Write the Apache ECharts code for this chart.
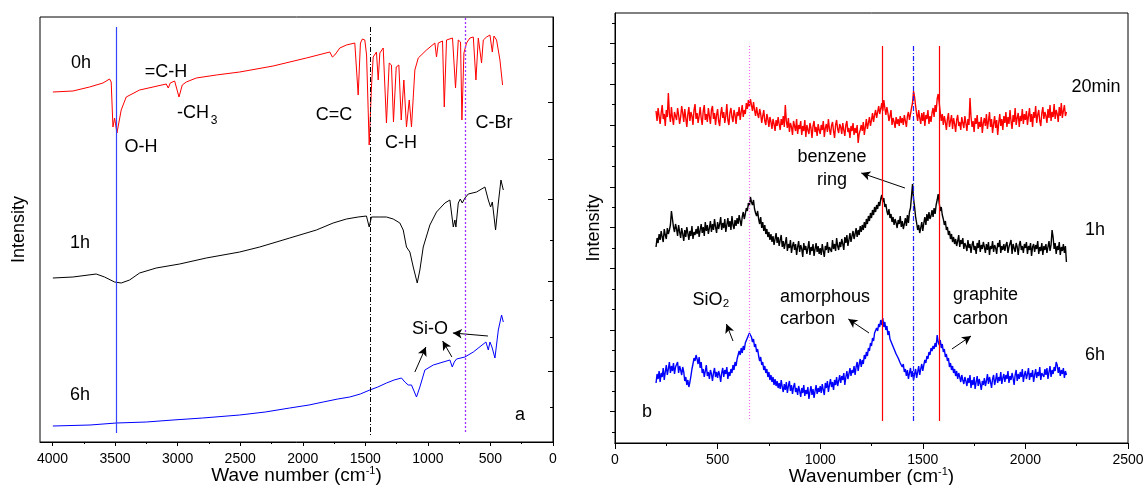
<!DOCTYPE html>
<html><head><meta charset="utf-8">
<script src="https://cdn.jsdelivr.net/npm/echarts@6/dist/echarts.min.js"></script>
<style>html,body{margin:0;padding:0;background:#fff}#c{width:1144px;height:485px}</style>
</head><body><div id="c"></div>
<script>
// ---------- Panel a: FTIR (wave number cm-1, intensity a.u.) ----------
const wave0h = [3997,3837,3704,3597,3544,3531,3517,3504,3485,3451,3411,3304,3197,3091,3075,3059,3024,3011,2989,2963,2931,2851,2691,2504,2237,1971,1784,1763,1744,1704,1651,1584,1571,1557,1539,1523,1504,1490,1469,1451,1437,1411,1397,1384,1357,1331,1309,1291,1275,1253,1232,1213,1192,1171,1149,1131,1104,1077,1011,944,931,917,883,869,851,803,779,757,739,728,712,691,664,637,616,597,571,557,531,504,485,472,451,424,403];
const int0h  = [350,351,355,359,363,360,315,324,309,332,345,352,355,358,354,359,361,362,345,357,360,364,367,370,376,384,390,385,387,394,397,399,400,347,399,403,402,387,297,355,385,390,362,389,394,319,379,377,320,375,377,322,362,315,342,315,372,384,392,399,385,399,401,335,402,404,354,402,400,322,389,399,404,405,362,404,379,402,405,407,390,406,402,382,357];
const wave1h = [3997,3837,3651,3640,3584,3504,3451,3384,3304,3171,2984,2771,2504,2344,2104,1891,1757,1651,1557,1491,1469,1451,1384,1331,1277,1224,1197,1171,1144,1117,1085,1064,1037,984,931,864,824,797,784,776,757,741,725,704,677,611,544,517,499,485,459,437,416,397];
const int1h  = [164,165,168,169,165,160,159,162,169,174,178,184,190,195,204,212,219,223,225,226,215,225,225,225,223,219,212,195,190,175,159,172,195,217,230,239,242,215,222,215,239,243,239,244,248,250,255,242,235,240,212,239,262,252];
const wave6h = [3997,3700,3490,3250,3037,2800,2504,2300,2104,1950,1837,1720,1624,1540,1464,1400,1331,1270,1211,1184,1157,1131,1091,1064,1024,957,824,805,789,771,704,637,536,517,504,488,464,437,411,397];
const int6h  = [16,17,19,20,22,24,27,30,34,37,40,43,45,48,52,55,59,62,64,60,57,57,45,55,72,77,82,75,80,83,85,90,100,92,100,95,84,112,127,120];
const ftirMajorTicks = [0,500,1000,1500,2000,2500,3000,3500,4000];
const ftirMinorTicks = [250,750,1250,1750,2250,2750,3250,3750];
const ftirYMajorTicks = [396,340,283,243,161,71];
const ftirYMinorTicks = [202,142,105,35];

// ---------- Panel b: Raman (wavenumber cm-1), sampled every 5 cm-1 from 200 to 2200 ----------
const ramanShift = Array.from({length: 401}, (_, i) => 200 + 5 * i);
const raman20min = [
332,322,335,327,319,330,338,324,329,317,333,326,350,329,321,336,325,318,331,327,
323,335,328,319,326,337,330,321,334,325,316,329,336,322,331,327,318,333,339,324,
330,320,327,336,325,318,332,338,323,329,321,335,327,319,333,337,324,330,318,328,
334,322,317,329,336,325,331,320,327,339,323,318,330,335,326,321,333,328,319,331,
327,336,323,331,338,326,333,329,340,334,343,336,344,338,332,341,333,327,336,329,
325,334,329,320,327,333,322,318,329,324,316,326,321,314,324,319,312,323,317,326,
319,313,324,318,327,316,338,322,315,325,311,320,316,308,322,317,312,324,309,318,
314,322,308,317,312,323,306,318,313,309,320,315,305,317,322,311,316,307,319,313,
309,318,313,322,306,315,319,311,324,314,308,317,321,312,305,318,323,314,310,319,
316,309,320,313,307,318,322,311,315,305,317,312,320,308,315,310,318,300,309,313,
318,312,321,308,316,324,314,320,326,317,323,330,321,328,333,325,331,337,329,334,
340,332,343,335,328,336,330,322,327,333,318,325,321,315,326,319,324,317,327,320,
325,318,328,322,316,327,331,323,329,335,340,352,346,337,329,322,333,325,319,330,
322,331,317,328,324,333,319,327,321,330,335,326,338,331,344,349,340,331,322,329,
318,327,321,313,324,330,316,322,328,314,325,319,311,323,328,317,321,313,326,320,
315,327,320,312,324,318,345,326,316,322,311,325,319,328,314,321,316,326,310,320,
325,317,329,314,322,331,316,324,310,319,327,315,323,308,320,329,317,324,313,327,
320,331,316,326,319,333,322,314,328,321,335,318,325,330,316,327,322,334,319,329,
323,332,318,327,335,321,329,316,331,325,337,320,328,333,322,317,330,336,324,331,
327,320,334,325,338,322,331,326,339,324,333,329,321,336,327,340,325,332,338,327,
331];
const raman1h = [
196,205,200,209,203,212,206,201,214,208,204,215,209,213,218,232,224,216,211,219,
214,207,218,211,205,215,209,202,213,206,216,210,203,212,207,217,204,211,208,214,
209,217,206,213,219,210,216,207,221,212,218,209,215,222,211,219,213,224,216,210,
221,214,219,226,213,220,215,224,211,218,225,216,222,213,227,218,214,223,217,225,
219,228,222,217,226,231,224,229,235,232,240,237,246,241,238,243,234,230,227,232,
224,219,226,215,221,212,218,209,214,206,211,203,209,201,207,198,204,210,200,206,
197,203,208,196,202,194,200,206,192,199,195,203,190,197,201,193,199,188,196,202,
191,198,194,186,200,193,197,189,195,202,188,196,192,199,187,194,200,191,197,189,
195,188,199,192,186,197,193,201,190,196,198,191,203,194,199,192,205,197,193,201,
196,204,199,193,206,200,208,197,203,210,201,207,212,204,209,215,206,213,208,217,
211,218,213,221,215,224,219,227,222,230,225,233,228,236,231,238,234,241,237,244,
248,241,245,236,239,232,228,234,225,229,221,226,218,224,220,215,223,219,227,216,
222,214,219,225,217,228,220,231,235,247,259,244,236,226,220,213,218,210,215,221,
212,220,226,218,229,222,231,224,227,233,226,235,229,238,243,249,240,232,236,228,
224,218,222,213,216,208,212,204,209,201,206,199,204,197,202,208,196,203,199,205,
194,200,197,192,203,195,199,190,198,202,193,197,189,200,195,203,191,198,194,201,
196,190,199,193,201,188,197,194,202,191,198,195,189,200,196,203,190,197,193,199,
192,198,201,190,196,194,203,189,199,195,191,200,196,188,198,202,193,197,190,199,
195,201,189,197,193,200,187,196,199,191,198,194,202,189,196,192,200,188,197,193,
199,190,196,202,192,198,213,206,194,200,189,197,193,201,188,196,192,199,190,197,
181];
const raman6h = [
60,69,64,72,61,70,66,75,63,71,78,68,74,81,70,77,72,80,69,76,
74,81,70,77,73,68,76,71,62,66,58,63,56,61,67,74,79,85,82,88,
84,79,86,75,81,70,74,66,72,78,67,71,64,73,69,62,70,75,66,71,
65,72,68,61,70,75,66,73,69,76,64,71,67,74,70,78,73,81,77,84,
86,92,88,95,90,97,93,100,98,105,103,110,108,106,101,104,96,99,91,94,
87,82,86,78,81,73,77,70,74,66,71,63,68,61,66,58,64,57,62,55,
60,54,63,56,51,59,53,61,50,57,62,52,58,49,56,60,51,55,48,57,
52,46,55,50,58,47,53,49,56,44,51,57,48,54,45,52,58,49,55,51,
57,50,59,53,48,60,55,62,51,58,64,56,61,53,63,58,66,57,62,68,
60,67,63,70,58,66,72,64,69,75,67,73,70,77,68,76,81,72,79,84,
76,83,79,88,84,91,87,95,92,100,97,105,102,110,108,115,112,119,116,123,
118,125,116,121,113,117,108,112,104,106,99,101,94,96,89,91,85,87,80,82,
76,79,71,74,67,73,64,70,75,66,72,63,69,74,65,71,77,68,74,79,
72,78,83,80,87,84,91,88,95,92,97,94,100,96,108,101,98,103,95,99,
91,94,86,89,82,85,76,80,73,77,70,74,67,72,64,70,66,61,68,63,
59,66,62,57,65,60,68,55,63,58,66,54,61,67,57,64,59,53,62,58,
65,57,62,69,59,66,61,55,64,68,58,63,70,60,66,62,71,59,65,69,
61,68,64,72,60,67,63,70,65,58,68,73,62,69,64,71,66,74,61,68,
72,64,69,75,63,70,66,73,61,68,74,65,71,67,76,63,70,72,66,74,
68,75,64,71,77,66,73,69,76,72,81,78,70,76,67,73,69,75,65,72,
68];
const ramanYMajorTicks = [400,359,318,256,216,175,113,72,32];
const ramanYMinorTicks = [420,380,339,297,277,236,195,154,134,93,52,11];

const FF = '"Liberation Sans", Arial, Helvetica, sans-serif';
const zip = (xs, ys) => xs.map((x, i) => [x, ys[i]]);

function vline(x, y1, y2, style) {
  return [{coord: [x, y1], symbol: 'none', lineStyle: style}, {coord: [x, y2], symbol: 'none'}];
}
function arrow(x1, y1, x2, y2) {
  return [{coord: [x1, y1], symbol: 'none', lineStyle: {color: '#000', width: 1, type: 'solid'}}, {coord: [x2, y2], symbol: 'arrow', symbolSize: [7, 9]}];
}
function txt(x, y, text, extra) {
  return {type: 'text', x: x, y: y, silent: true, z: 100,
    style: Object.assign({text: text, fontSize: 18, fontFamily: FF, fill: '#000', align: 'center', verticalAlign: 'middle'}, extra || {})};
}

const chart = echarts.init(document.getElementById('c'), null, {renderer: 'canvas'});
const axisLineStyle = {color: '#000', width: 1};
const plainLabel = v => String(v);
const nameStyle = {fontSize: 19, color: '#000', fontFamily: FF, lineHeight: 22,
  rich: {s: {fontSize: 11, lineHeight: 11, verticalAlign: 'top', fontFamily: FF, color: '#000'}}};

chart.setOption({
  animation: false,
  backgroundColor: '#fff',
  grid: [
    {left: 40, right: 591, top: 17, bottom: 43, show: true, borderColor: '#000', borderWidth: 1,
     backgroundColor: 'transparent', containLabel: false, outerBoundsMode: 'none'},
    {left: 615, right: 16, top: 13, bottom: 42, show: true, borderColor: '#000', borderWidth: 1,
     backgroundColor: 'transparent', containLabel: false, outerBoundsMode: 'none'}
  ],
  xAxis: [
    {gridIndex: 0, type: 'value', min: 0, max: 4100, inverse: true, position: 'bottom',
     axisLine: {show: true, lineStyle: axisLineStyle},
     axisTick: {show: true, customValues: ftirMajorTicks, length: 4, lineStyle: axisLineStyle},
     axisLabel: {customValues: ftirMajorTicks, fontSize: 14, color: '#000', fontFamily: FF, margin: 10, formatter: plainLabel},
     splitLine: {show: false},
     name: 'Wave number (cm{s|-1})', nameLocation: 'middle', nameGap: 23, nameMoveOverlap: false,
     nameTextStyle: nameStyle},
    {gridIndex: 0, type: 'value', min: 0, max: 4100, inverse: true, position: 'bottom',
     axisLine: {show: false}, axisLabel: {show: false}, splitLine: {show: false},
     axisTick: {show: true, customValues: ftirMinorTicks, length: 2, lineStyle: axisLineStyle}},
    {gridIndex: 1, type: 'value', min: 0, max: 2500, interval: 500, position: 'bottom',
     axisLine: {show: true, lineStyle: axisLineStyle},
     axisTick: {show: true, length: 6, lineStyle: axisLineStyle},
     minorTick: {show: true, splitNumber: 2, length: 3, lineStyle: axisLineStyle},
     axisLabel: {fontSize: 14, color: '#000', fontFamily: FF, margin: 10, formatter: plainLabel},
     splitLine: {show: false}, minorSplitLine: {show: false},
     name: 'Wavenumber (cm{s|-1})', nameLocation: 'middle', nameGap: 23, nameMoveOverlap: false,
     nameTextStyle: nameStyle},
    {gridIndex: 1, type: 'value', min: 0, max: 2500, interval: 500, position: 'top',
     axisLine: {show: true, lineStyle: axisLineStyle},
     axisTick: {show: true, inside: true, length: 6, lineStyle: axisLineStyle},
     minorTick: {show: true, splitNumber: 2, length: 3, lineStyle: axisLineStyle},
     axisLabel: {show: false}, splitLine: {show: false}, minorSplitLine: {show: false}}
  ],
  yAxis: [
    {gridIndex: 0, type: 'value', min: 0, max: 425, position: 'left',
     axisLine: {show: true, lineStyle: axisLineStyle},
     axisTick: {show: true, customValues: ftirYMajorTicks, length: 5, lineStyle: axisLineStyle},
     axisLabel: {show: false}, splitLine: {show: false},
     name: 'Intensity', nameLocation: 'middle', nameGap: 12, nameMoveOverlap: false,
     nameTextStyle: {fontSize: 18, color: '#000', fontFamily: FF}},
    {gridIndex: 0, type: 'value', min: 0, max: 425, position: 'left',
     axisLine: {show: false}, axisLabel: {show: false}, splitLine: {show: false},
     axisTick: {show: true, customValues: ftirYMinorTicks, length: 3, lineStyle: axisLineStyle}},
    {gridIndex: 1, type: 'value', min: 0, max: 430, position: 'left',
     axisLine: {show: true, lineStyle: axisLineStyle},
     axisTick: {show: true, customValues: ramanYMajorTicks, length: 5, lineStyle: axisLineStyle},
     axisLabel: {show: false}, splitLine: {show: false},
     name: 'Intensity', nameLocation: 'middle', nameGap: 12, nameMoveOverlap: false,
     nameTextStyle: {fontSize: 18, color: '#000', fontFamily: FF}},
    {gridIndex: 1, type: 'value', min: 0, max: 430, position: 'left',
     axisLine: {show: false}, axisLabel: {show: false}, splitLine: {show: false},
     axisTick: {show: true, customValues: ramanYMinorTicks, length: 3, lineStyle: axisLineStyle}}
  ],
  series: [
    {name: '0h', type: 'line', xAxisIndex: 0, yAxisIndex: 0, data: zip(wave0h, int0h), showSymbol: false,
     lineStyle: {color: '#ff0000', width: 1}, itemStyle: {color: '#ff0000'}},
    {name: '1h', type: 'line', xAxisIndex: 0, yAxisIndex: 0, data: zip(wave1h, int1h), showSymbol: false,
     lineStyle: {color: '#000000', width: 1}, itemStyle: {color: '#000'},
     markLine: {silent: true, animation: false, label: {show: false}, symbol: ['none', 'arrow'],
       data: [arrow(1104, 70, 1016, 95), arrow(808, 85, 882, 101), arrow(520, 106, 800, 109)]}},
    {name: '6h', type: 'line', xAxisIndex: 0, yAxisIndex: 0, data: zip(wave6h, int6h), showSymbol: false,
     lineStyle: {color: '#0000ff', width: 1}, itemStyle: {color: '#0000ff'},
     markLine: {silent: true, animation: false, label: {show: false}, symbol: ['none', 'none'],
       data: [
         vline(3490, 415, 9, {color: '#3344ff', width: 1.2, type: 'solid'}),
         vline(1464, 415, 7, {color: '#000', width: 1, type: [5, 2, 1, 2]}),
         vline(704, 424, 10, {color: '#9a33ff', width: 1.3, type: [2, 2]})
       ]}},
    {name: '20min', type: 'line', xAxisIndex: 2, yAxisIndex: 2, data: zip(ramanShift, raman20min), showSymbol: false,
     lineStyle: {color: '#ff0000', width: 1.4}, itemStyle: {color: '#ff0000'}},
    {name: 'R1h', type: 'line', xAxisIndex: 2, yAxisIndex: 2, data: zip(ramanShift, raman1h), showSymbol: false,
     lineStyle: {color: '#000000', width: 1.4}, itemStyle: {color: '#000'},
     markLine: {silent: true, animation: false, label: {show: false}, symbol: ['none', 'arrow'],
       data: [arrow(1413, 255, 1200, 270), arrow(575, 102, 543, 119), arrow(1238, 110, 1137, 124), arrow(1642, 94, 1735, 107)]}},
    {name: 'R6h', type: 'line', xAxisIndex: 2, yAxisIndex: 2, data: zip(ramanShift, raman6h), showSymbol: false,
     lineStyle: {color: '#0000ff', width: 1.4}, itemStyle: {color: '#0000ff'},
     markLine: {silent: true, animation: false, label: {show: false}, symbol: ['none', 'none'],
       data: [
         vline(655, 397, 22, {color: '#ff66ff', width: 1.2, type: [1, 2]}),
         vline(1303, 397, 22, {color: '#ff0000', width: 1.2, type: 'solid'}),
         vline(1454, 397, 22, {color: '#1a1aff', width: 1.2, type: [5, 2, 1, 2]}),
         vline(1581, 397, 22, {color: '#ff0000', width: 1.2, type: 'solid'})
       ]}}
  ],
  graphic: [
    txt(81, 63, '0h'),
    txt(166, 72, '=C-H'),
    txt(193, 113, '-CH'),
    txt(214, 121, '3', {fontSize: 12}),
    txt(141, 147, 'O-H'),
    txt(334, 115, 'C=C'),
    txt(401, 143, 'C-H'),
    txt(494, 123, 'C-Br'),
    txt(80, 243, '1h'),
    txt(80, 395, '6h'),
    txt(520, 415, 'a'),
    txt(430, 329, 'Si-O'),
    txt(1096, 87, '20min'),
    txt(1095, 230, '1h'),
    txt(1095, 355, '6h'),
    txt(832, 157, 'benzene'),
    txt(832, 180, 'ring'),
    txt(711, 300, 'SiO\u2082'),
    txt(780, 297, 'amorphous', {align: 'left'}),
    txt(780, 319, 'carbon', {align: 'left'}),
    txt(953, 295, 'graphite', {align: 'left'}),
    txt(953, 319, 'carbon', {align: 'left'}),
    txt(647, 412, 'b')
  ]
});
</script>
</body></html>
